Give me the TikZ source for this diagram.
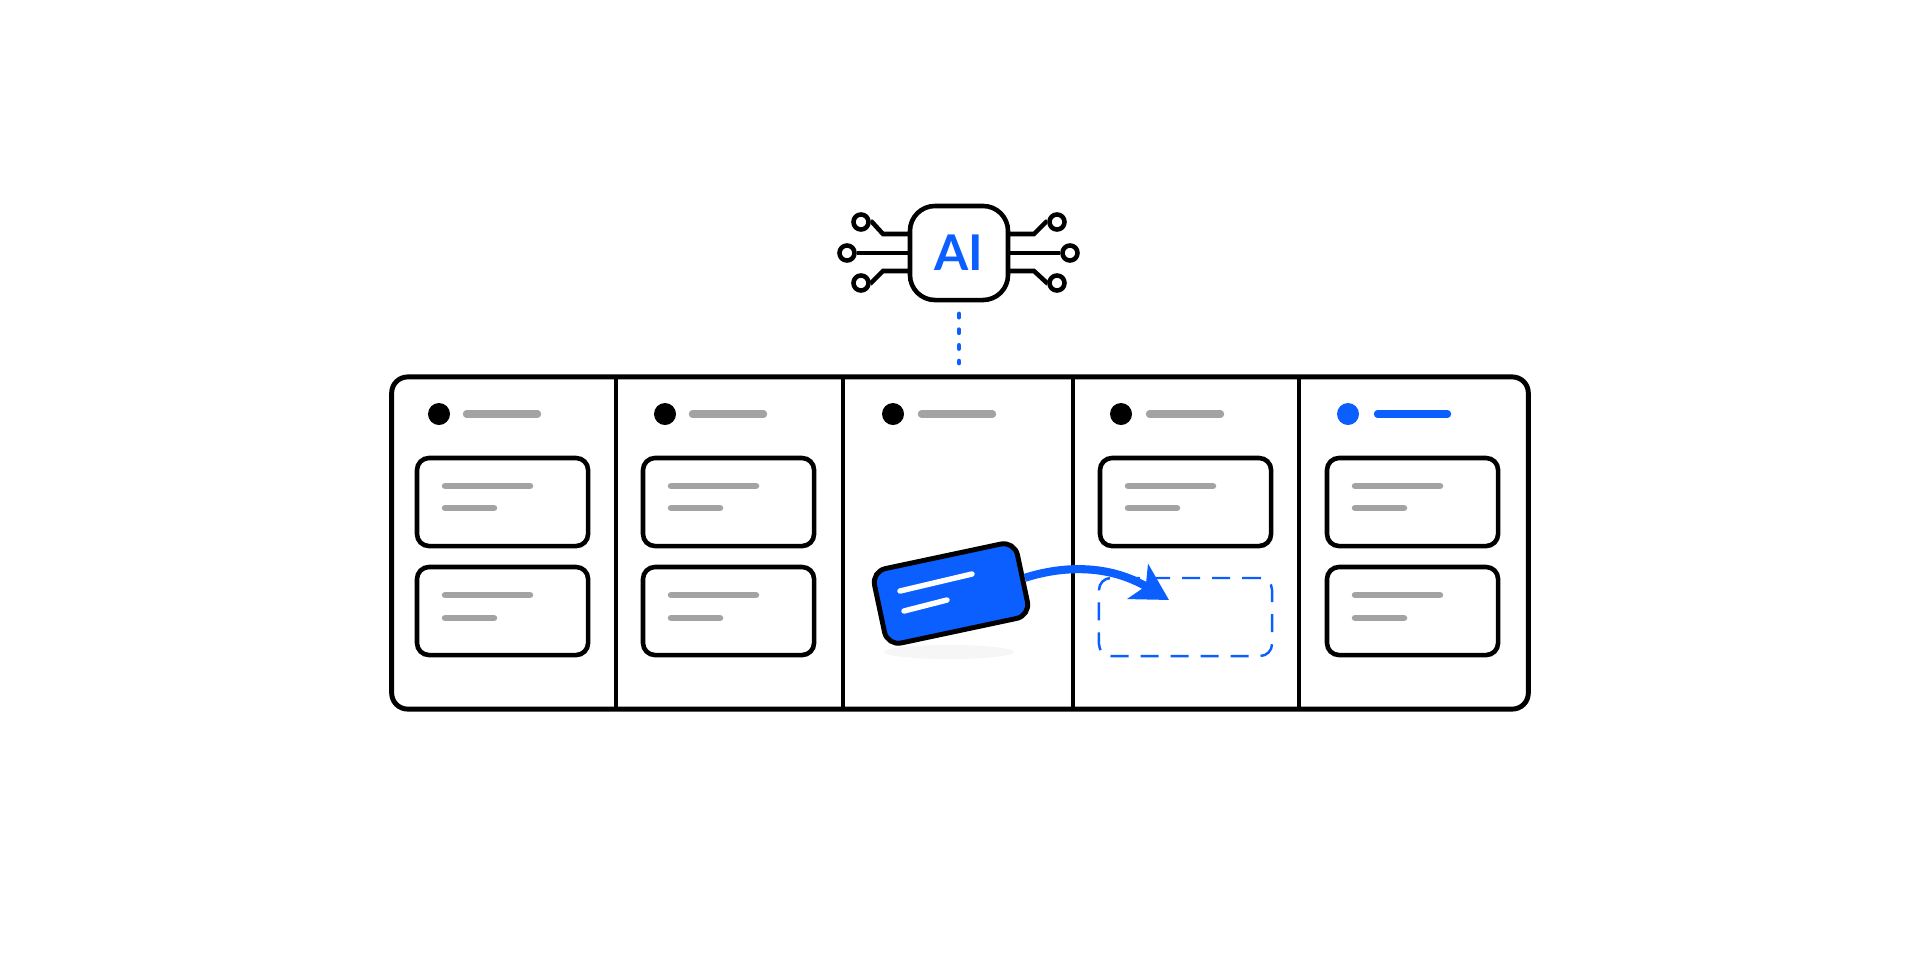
\documentclass[tikz,border=0pt]{standalone}
\usepackage{fontspec}
\setsansfont{Lato}
\usetikzlibrary{arrows.meta,shapes.geometric}
\definecolor{aiblue}{HTML}{0B5FFF}
\definecolor{bargrey}{HTML}{A3A3A3}
\definecolor{shadowgrey}{HTML}{F6F6F6}
\tikzset{
	panel/.style={draw,line width=1.4pt,rounded corners=0.16cm,minimum width=11.36cm,minimum height=3.32cm},
	taskcard/.style={draw,line width=1.3pt,rounded corners=0.12cm,outer sep=0pt,minimum width=1.71cm,minimum height=0.88cm},
	dropslot/.style={draw=aiblue,line width=0.7pt,rounded corners=0.12cm,dash pattern=on 0.18cm off 0.12cm,minimum width=1.73cm,minimum height=0.78cm},
	movedcard/.style={draw,fill=aiblue,line width=1.4pt,rounded corners=0.14cm,minimum width=1.46cm,minimum height=0.76cm,rotate=12},
	chip/.style={draw,line width=1.3pt,rounded corners=0.25cm,outer sep=0pt,minimum width=0.98cm,minimum height=0.94cm,inner sep=0pt},
	pin/.style={draw,circle,line width=1.3pt,minimum size=0.15cm,inner sep=0pt},
	lead/.style={line width=1.3pt},
	headdot/.style={circle,minimum size=0.22cm,inner sep=0pt},
	greybar/.style={draw=bargrey,line width=0.55pt,line cap=round}
}
\begin{document}
\begin{tikzpicture}[x=0.01cm,y=-0.01cm]
	\useasboundingbox (0,0) rectangle (1920,960);
	\node[panel] (board) at (960,543) {};
	\foreach \x in {616,843,1073,1299}
	{	\draw[line width=1.4pt] (\x,377) -- (\x,709);
	}
	%
	\foreach \n/\dotx/\barx in {a/439/463, b/665/689, c/893/918, d/1121/1146}
	{	\node[headdot,fill=black] (dot\n) at (\dotx,414) {};
		\draw[greybar,line width=2.1pt] (\barx+3.5,414) -- ++(71,0);
	}
	\node[headdot,fill=aiblue] (dote) at (1348,414) {};
	\draw[greybar,draw=aiblue,line width=2.1pt] (1377.5,414) -- ++(70,0);
	%
	\def\list {a/417, b/643, d/1100, e/1327}  % task cards
	\foreach \n/\x in \list
	{	\node[taskcard,anchor=north west] (top\n) at (\x,458) {};
		\draw[greybar,line width=1.85pt] (\x+28,486) -- ++(85,0);
		\draw[greybar,line width=1.85pt] (\x+28,508) -- ++(49,0);
	}
	\foreach \n/\x in {a/417, b/643, e/1327}
	{	\node[taskcard,anchor=north west] (low\n) at (\x,567) {};
		\draw[greybar,line width=1.85pt] (\x+28,595) -- ++(85,0);
		\draw[greybar,line width=1.85pt] (\x+28,618) -- ++(49,0);
	}
	%
	\node[dropslot] (slot) at (1185.5,617) {};
	\node[ellipse,fill=shadowgrey,minimum width=1.3cm,minimum height=0.14cm,inner sep=0pt] (shadow) at (949,652) {};
	\coordinate (drop) at (1169,600);
	\node[movedcard] (moved) at (951,593.5) {};
	\draw[aiblue,line width=2.3pt,-{Stealth[length=0.36cm,width=0.4cm,inset=0.09cm]}] (moved.east) .. controls (1065,565) and (1110,565) .. (drop);
	\draw[white,line width=1.55pt,line cap=round] (900,591) -- (972,574);
	\draw[white,line width=1.55pt,line cap=round] (904,611) -- (947,600);
	%
	\node[chip,font=\sffamily\bfseries\fontsize{14}{14}\selectfont,text=aiblue] (ai) at (959,253) {AI};
	\draw[aiblue,line width=1.4pt,line cap=round,dash pattern=on 0.03cm off 0.127cm,shorten >=0.115cm,shorten <=0.14cm] (ai.south) -- (ai.south |- board.north);
	%
	\def\list {tl/861/222/883/234/872/west, bl/861/283/883/271/871/west, tr/1057/222/1034/234/1046/east, br/1057/283/1034/271/1047/east}  % bent leads
	\foreach \n/\x/\y/\bx/\by/\kx/\side in \list
	{	\node[pin] (pin\n) at (\x,\y) {};
		\draw[lead] (pin\n) -- (\kx,\y) -- (\bx,\by) -- (ai.\side |- 0,\by);
	}
	\node[pin] (pinml) at (847,253) {};
	\node[pin] (pinmr) at (1070,253) {};
	\draw[lead] (pinml) -- (ai.west);
	\draw[lead] (pinmr) -- (ai.east);
\end{tikzpicture}
\end{document}
